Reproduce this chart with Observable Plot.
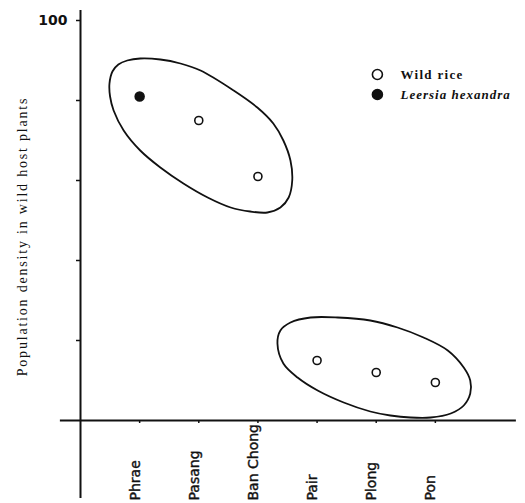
<!DOCTYPE html>
<html><head><meta charset="utf-8">
<script src="https://cdn.jsdelivr.net/npm/d3@7"></script>
<script src="https://cdn.jsdelivr.net/npm/@observablehq/plot@0.6"></script>
<style>body{margin:0;background:#fff}#chart{width:525px;height:503px}</style>
</head><body><div id="chart"></div>
<script>
const sites = ["Phrae","Pasang","Ban Chong","Pair","Plong","Pon"];
const density = [81,75,61,15,12,9.5];
const host = ["Leersia hexandra","Wild rice","Wild rice","Wild rice","Wild rice","Wild rice"];
const yTicks = [20,40,60,80,100];
const legendLabels = ["Wild rice","Leersia hexandra"];
const yLabel = "Population density in wild host plants";
// hand-traced outlines of the two groups (x = site position, y = density)
const group1X = [0.49,0.54,0.64,0.79,1.01,1.35,1.69,2.03,2.59,2.99,3.26,3.43,3.55,3.58,3.52,3.38,3.16,2.87,2.54,2.15,1.74,1.35,1.01,0.73,0.56,0.50];
const group1Y = [84.25,87.25,89,90,90.5,90.25,89.25,87.5,82.5,78.25,74.25,70,65,60,55.75,53.25,52,52.25,53.25,55.75,59.25,63.25,67.5,72.5,77.5,81];
const group2X = [3.33,3.38,3.55,3.89,4.35,4.90,5.36,5.80,6.21,6.48,6.59,6.59,6.48,6.26,5.92,5.58,5.24,4.90,4.45,4.01,3.67,3.43];
const group2Y = [19.25,22.5,24.5,25.75,25.75,25,23.25,20.75,17.5,13.25,10,6.75,3.75,1.75,0.75,0.75,1.25,2.25,4.5,7.5,10.75,14.25];

const pts = sites.map((s,i)=>({site:s, x:i+1, y:density[i], host:host[i]}));
const g1 = group1X.map((x,i)=>({x, y:group1Y[i]}));
const g2 = group2X.map((x,i)=>({x, y:group2Y[i]}));
const legend = legendLabels.map((l,i)=>({label:l, row:i}));

const plot = Plot.plot({
  width:525, height:503,
  marginLeft:80, marginRight:31, marginTop:20, marginBottom:83,
  x:{domain:[0,7]}, y:{domain:[0,100]},
  style:{background:"white", color:"#111"},
  marks:[
    Plot.ruleY([0], {x1:-0.34, x2:7.37, stroke:"#111", strokeWidth:2}),
    Plot.ruleX([0], {y1:-19.5, y2:102.5, stroke:"#111", strokeWidth:2}),
    Plot.axisY(yTicks, {tickSize:4, tickPadding:9, tickFormat:d=>d===100?"100":"", fontSize:14, fontWeight:"bold", fontFamily:"DejaVu Sans", label:null, strokeWidth:1.5}),
    Plot.axisX(d3.range(1,7), {tickSize:3, tickFormat:()=>"", label:null, strokeWidth:1.5}),
    Plot.text(pts, {x:"x", y:-20, text:"site", rotate:-90, textAnchor:"start", lineAnchor:"bottom", fontSize:14, fontFamily:"DejaVu Sans", fill:"#111", stroke:"#111", strokeWidth:0.4}),
    Plot.text([yLabel], {x:-0.98, y:46, text:d=>d, rotate:-90, fontSize:14, fontFamily:"Liberation Serif", fill:"#111"}),
    Plot.line(g1, {x:"x", y:"y", curve:"catmull-rom-closed", stroke:"#111", strokeWidth:1.8}),
    Plot.line(g2, {x:"x", y:"y", curve:"catmull-rom-closed", stroke:"#111", strokeWidth:1.8}),
    Plot.dot(pts.filter(d=>d.host==="Wild rice"), {x:"x", y:"y", r:4, fill:"white", stroke:"#111", strokeWidth:1.6}),
    Plot.dot(pts.filter(d=>d.host!=="Wild rice"), {x:"x", y:"y", r:4.5, fill:"#111", stroke:"#111"}),
    Plot.dot(legend, {x:5.02, y:d=>86.5-5*d.row, r:5, stroke:"#111", strokeWidth:1.6, fill:d=>d.row===0?"white":"#111"}),
    Plot.text(legend.filter(d=>d.row===0), {x:5.41, y:86.5, text:"label", textAnchor:"start", fontSize:13, fontWeight:"bold", fontFamily:"Liberation Serif", fill:"#111"}),
    Plot.text(legend.filter(d=>d.row===1), {x:5.41, y:81.5, text:"label", textAnchor:"start", fontSize:13, fontStyle:"italic", fontWeight:"bold", fontFamily:"Liberation Serif", fill:"#111"})
  ]
});
d3.select(plot).selectAll("text").each(function(){
  const t = this.textContent;
  if (t === yLabel) this.style.letterSpacing = "1.8px";
  else if (t === "Wild rice") this.style.letterSpacing = "1.3px";
  else if (t === "Leersia hexandra") this.style.letterSpacing = "1px";
});
document.getElementById("chart").append(plot);
</script></body></html>
